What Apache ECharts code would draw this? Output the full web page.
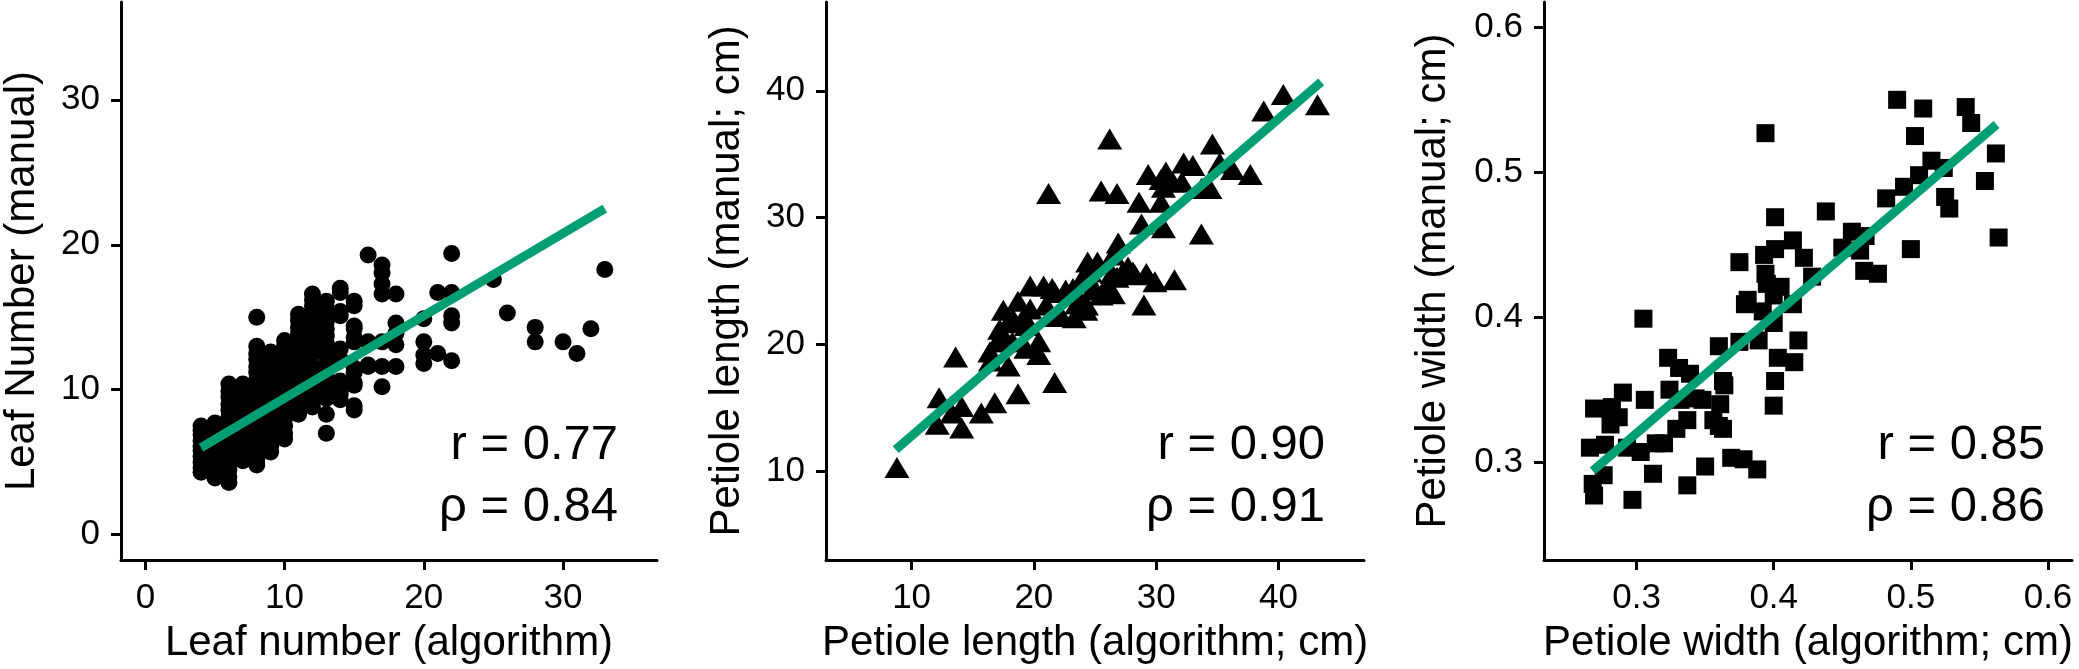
<!DOCTYPE html>
<html>
<head>
<meta charset="utf-8">
<title>Algorithm vs manual measurements</title>
<script src="https://cdn.jsdelivr.net/npm/echarts@6/dist/echarts.min.js"></script>
<style>
  html, body { margin: 0; padding: 0; background: #fff; }
  #chart { width: 2079px; height: 669px; }
</style>
</head>
<body>
<div id="chart"></div>
<script>
// --- leaf number: [algorithm, manual] ---
const leafPoints = [
  [4, 4.3], [4, 4.6], [4, 5.0], [4, 5.4], [4, 5.8], [4, 6.1], [4, 6.5], [4, 6.9], [4, 7.2], [4, 7.5],
  [5, 3.9], [5, 4.3], [5, 4.7], [5, 5.2], [5, 5.6], [5, 6.0], [5, 6.4], [5, 6.8], [5, 7.3], [5, 7.7],
  [6, 3.6], [6, 4.0], [6, 4.5], [6, 4.9], [6, 5.4], [6, 5.9], [6, 6.3], [6, 6.8], [6, 7.2], [6, 7.7],
  [6, 8.1], [6, 8.6], [6, 9.0], [6, 9.5], [6, 9.9], [6, 10.4],
  [7, 5.1], [7, 5.5], [7, 6.0], [7, 6.4], [7, 6.9], [7, 7.3], [7, 7.8], [7, 8.2], [7, 8.7], [7, 9.1],
  [7, 9.6], [7, 10.0], [7, 10.4],
  [8, 4.8], [8, 5.2], [8, 5.7], [8, 6.1], [8, 6.6], [8, 7.0], [8, 7.5], [8, 8.0], [8, 8.4], [8, 8.9],
  [8, 9.3], [8, 9.8], [8, 10.3], [8, 10.7], [8, 11.2], [8, 11.6], [8, 12.1], [8, 12.5], [8, 13.0], [8, 15.0],
  [9, 5.7], [9, 6.1], [9, 6.6], [9, 7.0], [9, 7.5], [9, 8.0], [9, 8.4], [9, 8.9], [9, 9.4], [9, 9.8],
  [9, 10.3], [9, 10.8], [9, 11.2], [9, 11.7], [9, 12.2], [9, 12.6],
  [10, 6.6], [10, 7.0], [10, 7.5], [10, 8.0], [10, 8.4], [10, 8.9], [10, 9.3], [10, 9.8], [10, 10.3], [10, 10.7],
  [10, 11.2], [10, 11.7], [10, 12.1], [10, 12.6], [10, 13.0], [10, 13.4],
  [11, 8.3], [11, 8.8], [11, 9.2], [11, 9.7], [11, 10.2], [11, 10.6], [11, 11.1], [11, 11.6], [11, 12.0], [11, 12.5],
  [11, 12.9], [11, 13.4], [11, 13.9], [11, 14.3], [11, 14.8], [11, 15.2],
  [12, 8.8], [12, 9.3], [12, 9.7], [12, 10.2], [12, 10.7], [12, 11.1], [12, 11.6], [12, 12.5], [12, 13.0], [12, 13.4],
  [12, 13.9], [12, 14.4], [12, 14.8], [12, 15.3], [12, 15.8], [12, 16.2], [12, 16.6],
  [13, 7.0], [13, 8.3], [13, 9.4], [13, 9.9], [13, 10.4], [13, 10.9], [13, 11.3], [13, 11.8], [13, 12.3], [13, 12.8],
  [13, 13.2], [13, 13.7], [13, 14.2], [13, 14.7], [13, 15.1], [13, 15.6], [13, 16.1],
  [14, 9.3], [14, 9.7], [14, 10.2], [14, 10.6], [14, 12.1], [14, 12.8], [14, 15.1], [14, 15.4], [14, 16.7], [14, 17.0],
  [15, 8.6], [15, 8.9], [15, 10.3], [15, 10.5], [15, 11.2], [15, 11.5], [15, 13.3], [15, 13.6], [15, 14.2], [15, 14.4],
  [15, 15.8], [15, 16.1],
  [16, 11.6], [16, 11.7], [16, 13.3], [16, 19.3],
  [17, 10.2], [17, 11.6], [17, 13.3], [17, 16.6], [17, 17.3], [17, 18.05], [17, 18.6],
  [18, 11.6], [18, 13.1], [18, 13.9], [18, 14.6], [18, 16.6],
  [20, 11.8], [20, 12.4], [20, 13.3], [20, 14.9],
  [21, 12.5], [21, 16.7],
  [22, 12.0], [22, 14.6], [22, 15.1], [22, 16.7], [22, 19.4],
  [25, 17.6], [26, 15.3], [28, 13.3], [28, 14.3], [30, 13.3], [31, 12.5], [32, 14.2], [33, 18.3]
];
const leafFit = [[4, 6.0], [33, 22.5]];
const leafLimits = [0, 35];
const leafTicks = [0, 10, 20, 30];
const leafStats = ['r = 0.77', 'ρ = 0.84'];

// --- petiole length (cm): [algorithm, manual] ---
const lengthPoints = [
  [8.8, 10.3], [13.6, 19.0], [12.25, 15.8], [12.1, 13.7], [13.3, 14.6], [14.1, 15.1], [14.1, 13.4],
  [15.7, 14.6], [16.45, 18.7], [16.8, 15.4], [17.0, 20.2], [17.5, 22.7], [17.9, 21.7], [17.9, 18.3],
  [18.25, 20.2], [18.7, 16.1], [18.7, 23.4], [19.2, 22.2], [19.35, 19.7], [19.7, 24.6], [20.4, 20.2],
  [20.4, 19.2], [20.8, 24.6], [21.0, 23.1], [21.2, 31.9], [21.7, 17.0], [21.9, 22.2], [21.7, 24.1],
  [22.6, 24.3], [23.3, 22.1], [23.5, 23.9], [23.9, 25.1], [24.4, 26.5], [24.25, 22.7], [25.0, 24.3],
  [25.2, 26.5], [25.5, 32.1], [25.5, 23.9], [26.2, 36.2], [26.4, 25.6], [26.8, 31.9], [26.9, 28.0],
  [27.2, 25.6], [27.7, 26.1], [28.25, 25.5], [28.6, 31.2], [28.8, 29.5], [29.0, 23.1], [29.2, 25.6],
  [29.35, 33.4], [29.9, 24.95], [30.4, 31.2], [30.6, 29.2], [30.6, 32.4], [30.8, 33.6], [31.35, 32.8],
  [31.5, 25.1], [32.1, 32.8], [32.25, 34.3], [33.0, 34.1], [33.7, 28.7], [33.7, 32.3], [34.6, 35.8],
  [34.4, 32.3], [35.2, 34.3], [36.25, 33.8], [37.7, 33.4], [38.8, 38.4], [40.4, 39.7], [43.2, 38.9],
  [30.4, 33.0], [26.5, 27.05], [26.8, 25.3], [28.1, 25.7], [26.0, 24.7], [24.6, 25.7], [23.2, 24.4],
  [21.5, 24.4], [18.3, 22.0], [19.7, 22.8], [22.15, 22.4], [24.3, 23.1], [26.5, 24.0], [23.5, 23.2],
  [24.9, 24.5], [17.2, 21.2], [19.4, 21.5], [17.5, 20.2], [16.4, 19.4]
];
const lengthFit = [[8.7, 11.7], [43.5, 40.7]];
const lengthLimits = [5, 45];
const lengthTicks = [10, 20, 30, 40];
const lengthStats = ['r = 0.90', 'ρ = 0.91'];

// --- petiole width (cm): [algorithm, manual] ---
const widthPoints = [
  [0.490, 0.550], [0.509, 0.544], [0.540, 0.545], [0.544, 0.534], [0.503, 0.525], [0.394, 0.527],
  [0.562, 0.513], [0.515, 0.508], [0.524, 0.503], [0.506, 0.498], [0.554, 0.494], [0.495, 0.490],
  [0.482, 0.482], [0.525, 0.483], [0.528, 0.475], [0.438, 0.473], [0.401, 0.469], [0.457, 0.459],
  [0.467, 0.456], [0.450, 0.448], [0.463, 0.446], [0.500, 0.447], [0.564, 0.455], [0.414, 0.453],
  [0.393, 0.443], [0.401, 0.447], [0.422, 0.441], [0.375, 0.438], [0.394, 0.430], [0.428, 0.428],
  [0.466, 0.432], [0.476, 0.430], [0.395, 0.423], [0.405, 0.421], [0.381, 0.412], [0.379, 0.409],
  [0.400, 0.415], [0.414, 0.409], [0.392, 0.404], [0.400, 0.396], [0.418, 0.384], [0.403, 0.372],
  [0.415, 0.369], [0.401, 0.356], [0.400, 0.339], [0.305, 0.399], [0.360, 0.380], [0.375, 0.383],
  [0.389, 0.384], [0.323, 0.372], [0.331, 0.365], [0.339, 0.361], [0.363, 0.356], [0.364, 0.353],
  [0.348, 0.343], [0.361, 0.340], [0.290, 0.348], [0.306, 0.343], [0.324, 0.350], [0.269, 0.337],
  [0.282, 0.338], [0.287, 0.331], [0.281, 0.326], [0.329, 0.323], [0.337, 0.329], [0.356, 0.329],
  [0.360, 0.325], [0.363, 0.323], [0.314, 0.313], [0.320, 0.313], [0.266, 0.310], [0.277, 0.312],
  [0.293, 0.310], [0.303, 0.307], [0.350, 0.297], [0.369, 0.303], [0.378, 0.302], [0.388, 0.295],
  [0.312, 0.292], [0.276, 0.291], [0.268, 0.285], [0.269, 0.277], [0.337, 0.284], [0.297, 0.274],
  [0.332, 0.343], [0.343, 0.344]
];
const widthFit = [[0.268, 0.294], [0.5625, 0.533]];
const widthLimits = [0.25, 0.6];
const widthTicks = [0.3, 0.4, 0.5, 0.6];
const widthStats = ['r = 0.85', 'ρ = 0.86'];

const FONT = '"Liberation Sans", Arial, Helvetica, sans-serif';
const GREEN = '#009E73';

// ggplot-style 5% expansion of the axis limits
const expand = (lim) => {
  const pad = (lim[1] - lim[0]) * 0.05;
  return [lim[0] - pad, lim[1] + pad];
};

const panels = [
  {
    grid: { left: 117, top: 2, width: 540, height: 558 },
    points: leafPoints, fit: leafFit, limits: leafLimits, ticks: leafTicks, stats: leafStats,
    symbol: 'circle', symbolSize: 17,
    xName: 'Leaf number (algorithm)', yName: 'Leaf Number (manual)', yGap: 78,
    statsX: 618,
  },
  {
    grid: { left: 826, top: 2, width: 538, height: 558 },
    points: lengthPoints, fit: lengthFit, limits: lengthLimits, ticks: lengthTicks, stats: lengthStats,
    symbol: 'triangle', symbolSize: [25, 21],
    xName: 'Petiole length (algorithm; cm)', yName: 'Petiole length (manual; cm)', yGap: 78,
    statsX: 1325,
  },
  {
    grid: { left: 1544, top: 2, width: 528, height: 558 },
    points: widthPoints, fit: widthFit, limits: widthLimits, ticks: widthTicks, stats: widthStats,
    symbol: 'rect', symbolSize: 18,
    xName: 'Petiole width (algorithm; cm)', yName: 'Petiole width (manual; cm)', yGap: 90,
    statsX: 2045,
  },
];

const makeAxis = (i, p, name, gap) => {
  const [min, max] = expand(p.limits);
  return {
    type: 'value',
    gridIndex: i,
    min: min,
    max: max,
    name: name,
    nameLocation: 'middle',
    nameGap: gap,
    nameTextStyle: { fontSize: 42, color: '#000', fontFamily: FONT },
    axisLine: { show: true, onZero: false, lineStyle: { color: '#000', width: 3 } },
    axisTick: { show: true, length: 10, customValues: p.ticks, lineStyle: { color: '#000', width: 3 } },
    axisLabel: { fontSize: 35, color: '#000', fontFamily: FONT, margin: 21, customValues: p.ticks },
    splitLine: { show: false },
  };
};

const chart = echarts.init(document.getElementById('chart'));

const option = {
  backgroundColor: '#fff',
  animation: false,
  grid: panels.map((p) => p.grid),
  xAxis: panels.map((p, i) => makeAxis(i, p, p.xName, 62)),
  yAxis: panels.map((p, i) => makeAxis(i, p, p.yName, p.yGap)),
  series: panels.flatMap((p, i) => [
    {
      type: 'scatter',
      xAxisIndex: i,
      yAxisIndex: i,
      data: p.points,
      symbol: p.symbol,
      symbolSize: p.symbolSize,
      itemStyle: { color: '#000', opacity: 1 },
      z: 2,
    },
    {
      type: 'line',
      xAxisIndex: i,
      yAxisIndex: i,
      data: p.fit,
      symbol: 'none',
      lineStyle: { color: GREEN, width: 9 },
      z: 3,
    },
  ]),
  graphic: panels.flatMap((p) =>
    p.stats.map((txt, j) => ({
      type: 'text',
      x: p.statsX,
      y: j === 0 ? 445 : 507,
      z: 10,
      style: {
        text: txt,
        font: '49px ' + FONT,
        fill: '#000',
        align: 'right',
        verticalAlign: 'middle',
      },
    }))
  ),
};

chart.setOption(option);
</script>
</body>
</html>
